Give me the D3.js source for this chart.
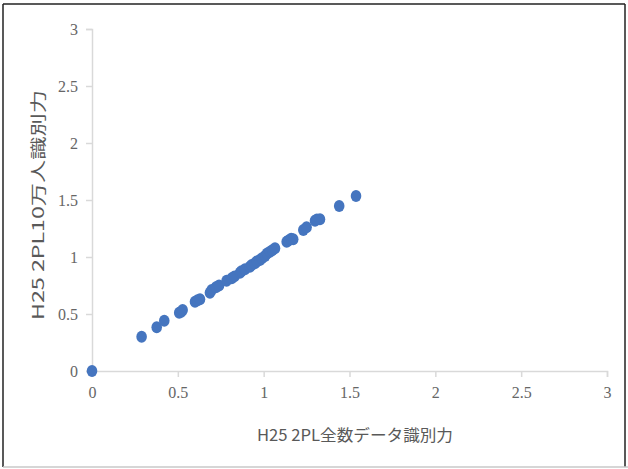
<!DOCTYPE html>
<html>
<head>
<meta charset="utf-8">
<script src="https://cdn.jsdelivr.net/npm/d3@7"></script>
<style>
  html, body { margin: 0; padding: 0; background: #fff; }
  svg { display: block; }
  .tick text { font-family: "Liberation Serif", "DejaVu Serif", serif !important; }
</style>
</head>
<body>
<svg id="chart" width="628" height="469"></svg>
<script>
// Data
const xValues = [0, 0.289, 0.377, 0.421, 0.508, 0.520, 0.528, 0.600, 0.615, 0.629, 0.687, 0.697, 0.722, 0.740,
  0.784, 0.814, 0.830, 0.862, 0.870, 0.891, 0.920, 0.930, 0.949, 0.960, 0.978, 0.990, 1.008, 1.020, 1.037,
  1.050, 1.066, 1.134, 1.145, 1.160, 1.172, 1.231, 1.250, 1.299, 1.310, 1.328, 1.440, 1.538];
const yValues = [0, 0.301, 0.383, 0.441, 0.511, 0.520, 0.535, 0.608, 0.620, 0.629, 0.687, 0.711, 0.734, 0.750,
  0.792, 0.813, 0.830, 0.862, 0.875, 0.892, 0.915, 0.930, 0.945, 0.960, 0.974, 0.990, 1.009, 1.030, 1.046,
  1.060, 1.076, 1.134, 1.145, 1.160, 1.155, 1.237, 1.261, 1.318, 1.330, 1.331, 1.447, 1.535];
const xTicks = [0, 0.5, 1, 1.5, 2, 2.5, 3];
const yTicks = [0, 0.5, 1, 1.5, 2, 2.5, 3];
const xTitle = "H25 2PL全数データ識別力";
const yTitle = "H25 2PL10万人識別力";

const points = xValues.map((x, i) => ({ x, y: yValues[i] }));

const svg = d3.select("#chart");

// outer frame
svg.append("line").attr("x1", 3).attr("y1", 4).attr("x2", 625).attr("y2", 4).attr("stroke", "#222").attr("stroke-width", 1.5);
svg.append("line").attr("x1", 3).attr("y1", 4).attr("x2", 3).attr("y2", 467).attr("stroke", "#222").attr("stroke-width", 1.5);
svg.append("line").attr("x1", 625).attr("y1", 4).attr("x2", 625).attr("y2", 467).attr("stroke", "#222").attr("stroke-width", 1.5);
svg.append("line").attr("x1", 3).attr("y1", 467).attr("x2", 628).attr("y2", 467).attr("stroke", "#c8c8c8").attr("stroke-width", 1.5);

const x = d3.scaleLinear().domain([0, 3]).range([92, 607]);
const y = d3.scaleLinear().domain([0, 3]).range([371, 29]);

const axisColor = "#d9d9d9";
const labelFont = "'Liberation Serif', 'DejaVu Serif', serif";

const xAxis = svg.append("g")
  .attr("transform", `translate(0,${y(0)})`)
  .call(d3.axisBottom(x).tickValues(xTicks).tickFormat(d3.format("")).tickSize(6).tickPadding(10));
const yAxis = svg.append("g")
  .attr("transform", `translate(${x(0)},0)`)
  .call(d3.axisLeft(y).tickValues(yTicks).tickFormat(d3.format("")).tickSize(6).tickPadding(8));

[xAxis, yAxis].forEach(g => {
  g.attr("font-family", labelFont).attr("font-size", 16);
  g.select(".domain").attr("stroke", axisColor).attr("stroke-width", 1.5);
  g.selectAll(".tick line").attr("stroke", axisColor).attr("stroke-width", 1.5);
  g.selectAll(".tick text")
    .attr("fill", "#666666")
    .attr("font-family", labelFont)
    .style("font-size", "16px");
});

// points
svg.append("g").selectAll("ellipse")
  .data(points)
  .join("ellipse")
  .attr("cx", d => x(d.x))
  .attr("cy", d => y(d.y))
  .attr("rx", 5.3)
  .attr("ry", 6)
  .attr("fill", "#4575BF");

// axis titles
svg.append("text")
  .attr("x", 355)
  .attr("y", 441)
  .attr("text-anchor", "middle")
  .attr("fill", "#595959")
  .style("font-family", "'Noto Sans CJK JP', 'Liberation Serif', serif")
  .style("font-size", "16px")
  .attr("textLength", 196)
  .attr("lengthAdjust", "spacingAndGlyphs")
  .text(xTitle);

svg.append("text")
  .attr("transform", "translate(44,205) rotate(-90)")
  .attr("text-anchor", "middle")
  .attr("fill", "#595959")
  .style("font-family", "'Noto Sans CJK JP', 'Liberation Serif', serif")
  .style("font-size", "16px")
  .attr("textLength", 230)
  .attr("lengthAdjust", "spacingAndGlyphs")
  .text(yTitle);
</script>
</body>
</html>
